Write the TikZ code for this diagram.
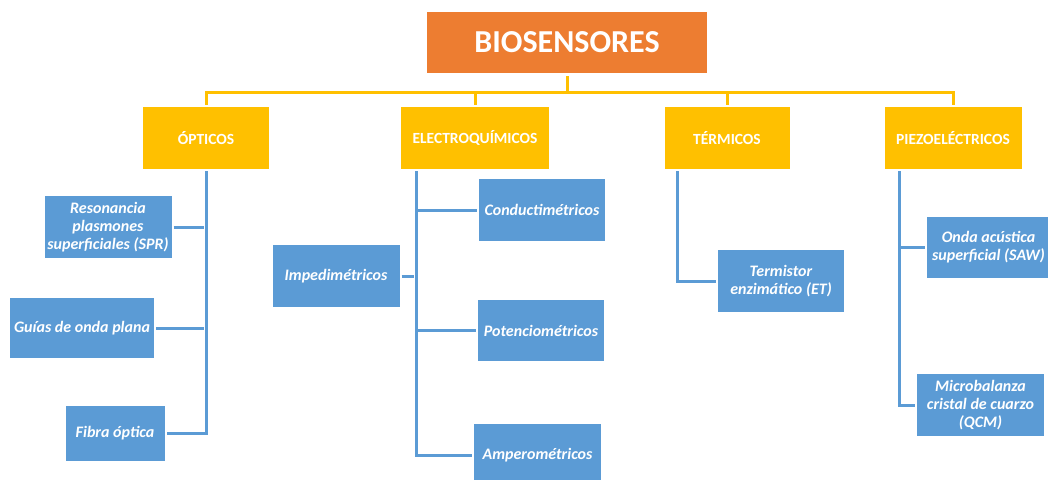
\documentclass[tikz,border=0pt]{standalone}
\usepackage{fontspec}
\setmainfont{Carlito}
\usepackage{tikz}
\usetikzlibrary{positioning}
\definecolor{rootorange}{RGB}{237,125,49}
\definecolor{catyellow}{RGB}{255,192,0}
\definecolor{leafblue}{RGB}{91,155,213}

\begin{document}
\begin{tikzpicture}
              [x=1pt,y=1pt,
                every node/.style={rectangle,draw=none,inner sep=0pt,text=white,align=center},
                root/.style={fill=rootorange,minimum width=280pt,minimum height=61pt,font=\fontsize{32}{38}\selectfont\bfseries},
                cat/.style={fill=catyellow,minimum height=62pt,font=\fontsize{15.5}{18}\selectfont\bfseries},
                leaf/.style={fill=leafblue,minimum height=62pt,font=\fontsize{16}{18}\selectfont\bfseries\itshape},
                ylink/.style={draw=catyellow,line width=3pt},
                blink/.style={draw=leafblue,line width=3pt,shorten <=2pt,shorten >=2pt}]
              \useasboundingbox (0,0) rectangle (1048,-479);
              \node[root] (bio) at (567,-42.5) {BIOSENSORES};
              \node[cat,minimum width=126pt] (opt) at (206,-138) {ÓPTICOS};
              \node[cat,minimum width=148pt] (elec) at (475,-138) {ELECTROQUÍMICOS};
              \node[cat,minimum width=125pt] (term) at (727,-138) {TÉRMICOS};
              \node[cat,minimum width=137pt] (piezo) at (953,-138) {PIEZOELÉCTRICOS};
              \node[leaf,minimum width=127pt] (spr) at (108,-227) {Resonancia\\plasmones\\superficiales (SPR)};
              \node[leaf,minimum width=144pt,minimum height=60pt] (guia) at (82,-328) {Guías de onda plana};
              \node[leaf,minimum width=99pt,minimum height=55pt] (fibra) at (115,-433.5) {Fibra óptica};
              \node[leaf,minimum width=127pt] (imp) at (336,-276) {Impedimétricos};
              \node[leaf,minimum width=126pt] (cond) at (542,-210) {Conductimétricos};
              \node[leaf,minimum width=126pt,minimum height=61pt] (pot) at (541,-330.5) {Potenciométricos};
              \node[leaf,minimum width=127pt] (amp) at (537.5,-455) {Amperométricos};
              \node[leaf,minimum width=126pt] (termi) at (781,-281) {Termistor\\enzimático (ET)};
              \node[leaf,minimum width=123pt,minimum height=61pt] (saw) at (988.5,-247.5) {Onda acústica\\superficial (SAW)};
              \node[leaf,minimum width=127pt] (qcm) at (980.5,-405) {Microbalanza\\cristal de cuarzo\\(QCM)};
              \coordinate (etrunk) at (416,-169);
              \coordinate (ttrunk) at (677,-169);
              \coordinate (ptrunk) at (899,-169);
              \foreach \c in {opt,elec,term,piezo}
              \draw[ylink] ([yshift=-3pt]bio.south) -- ++(0,-16) -| ([yshift=2pt]\c.north);
              \draw[blink] (opt.south) |- (fibra.east);
              \draw[blink] (etrunk) |- (amp.west);
              \draw[blink] (ttrunk) |- (termi.west);
              \draw[blink] (ptrunk) |- (qcm.west);
              \foreach \from/\to in {spr/opt.south,guia/opt.south,imp/etrunk}
              \draw[blink] (\from.east) -- (\from.east -| \to);
              \foreach \from/\to in {cond/etrunk,pot/etrunk,saw/ptrunk}
              \draw[blink] (\from.west) -- (\from.west -| \to);
            \end{tikzpicture}
\end{document}
